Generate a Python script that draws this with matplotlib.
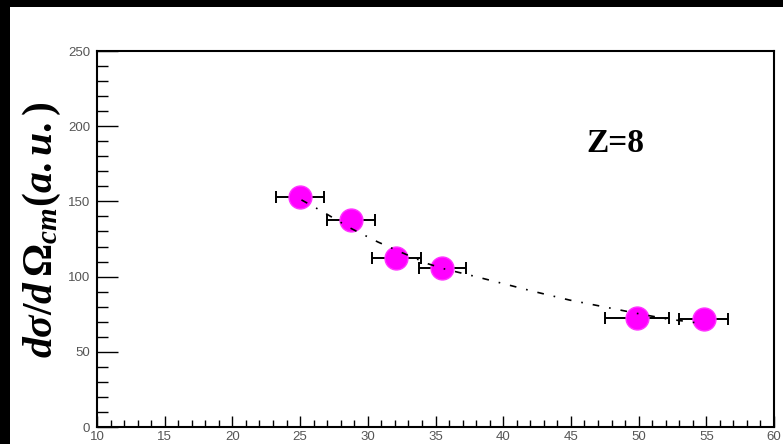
import matplotlib

matplotlib.use("Agg")

import matplotlib.pyplot as plt
from matplotlib.patches import Rectangle
from matplotlib.ticker import MultipleLocator

# measured points
angle = [25.0, 28.75, 32.1, 35.5, 49.9, 54.8]
xsec = [153.0, 137.5, 112.5, 106.0, 72.5, 71.5]
angle_err = [1.8, 1.8, 1.8, 1.75, 2.35, 1.8]

# dash-dot guide curve
curve_x = [25.1, 26.7, 28.7, 30.75, 32.4, 34.45, 35.7, 37.8, 40.1, 42.4,
           44.9, 47.5, 49.9, 52.0, 54.5]
curve_y = [151.0, 143.0, 132.3, 123.0, 116.4, 108.5, 105.0, 100.4, 95.1,
           89.8, 84.4, 79.8, 75.5, 72.0, 69.0]

plt.rcParams["mathtext.fontset"] = "custom"
plt.rcParams["mathtext.it"] = "Liberation Serif:italic:bold"
plt.rcParams["mathtext.rm"] = "Liberation Serif:bold"
plt.rcParams["mathtext.bf"] = "Liberation Serif:bold"

W, H = 783, 444
fig = plt.figure(figsize=(W / 100, H / 100), dpi=100)
fig.patch.set_facecolor("black")
fig.patches.append(
    Rectangle((10 / W, 0), 1 - 10 / W, 1 - 7 / H, transform=fig.transFigure,
              facecolor="white", edgecolor="none", zorder=-10)
)

ax = fig.add_axes([97 / W, 17 / H, 677 / W, 376 / H])
ax.set_zorder(5)
ax.set_facecolor("white")

ax.errorbar(angle, xsec, xerr=angle_err, fmt="none", ecolor="black",
            elinewidth=1.4, capsize=4, capthick=1.4, zorder=2)
ax.plot(angle, xsec, "o", color="#ff00ff", markersize=16.5,
        markeredgecolor="#ff33ff", zorder=3)
ax.plot(curve_x, curve_y, color="black", linewidth=1.2,
        linestyle=(0, (4, 6, 1, 6)), zorder=4)

ax.set_xlim(10, 60)
ax.set_ylim(0, 250)
ax.xaxis.set_major_locator(MultipleLocator(5))
ax.xaxis.set_minor_locator(MultipleLocator(1))
ax.yaxis.set_major_locator(MultipleLocator(50))
ax.yaxis.set_minor_locator(MultipleLocator(10))

for side in ["left", "bottom", "right", "top"]:
    ax.spines[side].set_linewidth(1.5)
ax.tick_params(axis="both", which="both", direction="in", width=1.0,
               top=False, right=False, labelsize=9.5, colors="black")
ax.tick_params(axis="both", labelcolor="#555555")
ax.tick_params(axis="y", which="major", length=15, pad=5)
ax.tick_params(axis="y", which="minor", length=8)
ax.tick_params(axis="x", which="major", length=7.7, pad=3)
ax.tick_params(axis="x", which="minor", length=4.8)
for lab in ax.get_xticklabels() + ax.get_yticklabels():
    lab.set_family("Liberation Sans")

fig.text(42 / W, 1 - 230 / H, r"$d\sigma/d\,\Omega_{cm}(a.u.)$",
         rotation=90, ha="center", va="center", fontsize=30, color="black",
         zorder=6)

ax.text(0.765, 0.755, "Z=8", transform=ax.transAxes,
        ha="center", va="center", fontsize=24, fontweight="bold",
        family="Liberation Serif", color="black")

fig.savefig("out.png", dpi=100, facecolor=fig.get_facecolor())
